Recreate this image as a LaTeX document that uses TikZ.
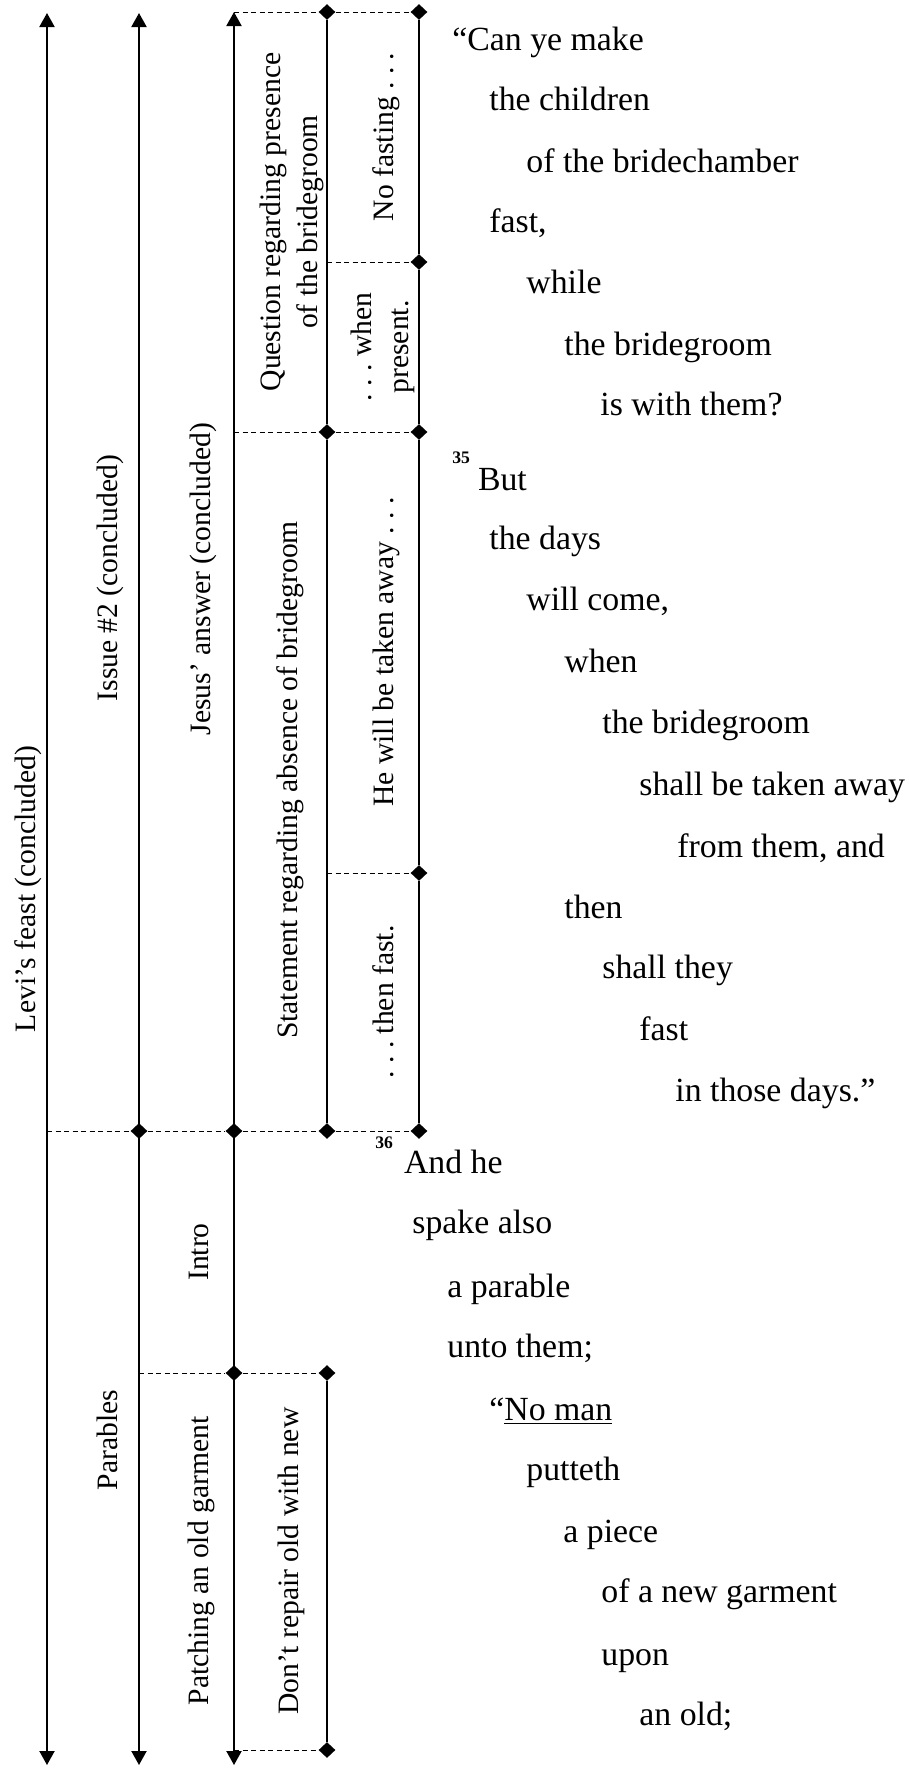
\documentclass[tikz,border=0pt]{standalone}
\usepackage{fontspec}
\setmainfont{Liberation Serif}
\usetikzlibrary{arrows.meta,shapes.geometric}
\begin{document}
\begin{tikzpicture}[x=0.5pt,y=-0.5pt,
  vline/.style={line width=1pt},
  arr/.style={vline,{Triangle[width=7.5pt,length=7pt]}-{Triangle[width=7.5pt,length=7pt]}},
  sepline/.style={line width=0.5pt,dash pattern=on 2.5pt off 1.75pt},
  dia/.style={diamond,fill=black,draw=none,inner sep=0pt,minimum width=8.5pt,minimum height=8pt},
  lbl/.style={rotate=90,inner sep=0pt,font=\fontsize{14.8}{18.3}\selectfont},
  vt/.style={anchor=base west,inner sep=0pt,font=\fontsize{16.9}{21}\selectfont},
]
\useasboundingbox (0,0) rectangle (909,1769);

% end points of the long arrows
\coordinate (c1t) at (47,13);  \coordinate (c1b) at (47,1765);
\coordinate (c2t) at (139,13); \coordinate (c2b) at (139,1765);
\coordinate (c3t) at (234,12); \coordinate (c3b) at (234,1765);
% free ends of dashed separators
\coordinate (h262) at (327,262);
\coordinate (h432) at (234,432);
\coordinate (h873) at (327,873);
\coordinate (h1131) at (47,1131);
\coordinate (h1373) at (139,1373);
\coordinate (h1750) at (234,1750);

% long arrows
\draw[arr] (c1t) -- (c1b);
\draw[arr] (c2t) -- (c2b);
\draw[arr] (c3t) -- (c3b);

% diamonds
\node[dia] (d2a) at (139,1131) {};
\node[dia] (d3a) at (234,1131) {};
\node[dia] (d3b) at (234,1373) {};
\node[dia] (d4a) at (327,12) {};
\node[dia] (d4b) at (327,432) {};
\node[dia] (d4c) at (327,1131) {};
\node[dia] (d4d) at (327,1373) {};
\node[dia] (d4e) at (327,1750) {};
\node[dia] (d5a) at (419,12) {};
\node[dia] (d5b) at (419,262) {};
\node[dia] (d5c) at (419,432) {};
\node[dia] (d5d) at (419,873) {};
\node[dia] (d5e) at (419,1131) {};

% vertical segments
\draw[vline] (d4a) -- (d4b) -- (d4c);
\draw[vline] (d4d) -- (d4e);
\draw[vline] (d5a) -- (d5b) -- (d5c) -- (d5d) -- (d5e);

% dashed separators
\draw[sepline] (c3t) -- (d4a) -- (d5a);
\draw[sepline] (h262) -- (d5b);
\draw[sepline] (h432) -- (d4b) -- (d5c);
\draw[sepline] (h873) -- (d5d);
\draw[sepline] (h1131) -- (d2a) -- (d3a) -- (d4c) -- (d5e);
\draw[sepline] (h1373) -- (d3b) -- (d4d);
\draw[sepline] (h1750) -- (d4e);

% rotated labels
\node[lbl,anchor=base] (l1) at (35,889) {Levi’s feast (concluded)};
\node[lbl,anchor=base] (l2) at (117,578) {Issue \#2 (concluded)};
\node[lbl,anchor=base] (l3) at (210,579) {Jesus’ answer (concluded)};
\node[lbl,anchor=center,align=center] (l4) at (292,222) {Question regarding presence\\of the bridegroom};
\node[lbl,anchor=base] (l5) at (393,137) {No fasting .\ .\ .};
\node[lbl,anchor=center,align=center] (l6) at (383,347) {.\ .\ .\ when\\present.};
\node[lbl,anchor=base] (l7) at (297,780) {Statement regarding absence of bridegroom};
\node[lbl,anchor=base] (l8) at (393,652) {He will be taken away .\ .\ .};
\node[lbl,anchor=base] (l9) at (393,1002) {.\ .\ .\ then fast.};
\node[lbl,anchor=base] (l10) at (208,1252) {Intro};
\node[lbl,anchor=base] (l11) at (117,1440) {Parables};
\node[lbl,anchor=base] (l12) at (208,1561) {Patching an old garment};
\node[lbl,anchor=base] (l13) at (298,1561) {Don’t repair old with new};

% verse text
\node[vt] (t1) at (452,50) {“Can ye make};
\node[vt] (t2) at (489,110) {the children};
\node[vt] (t3) at (526,172) {of the bridechamber};
\node[vt] (t4) at (489,232) {fast,};
\node[vt] (t5) at (526,293) {while};
\node[vt] (t6) at (564,355) {the bridegroom};
\node[vt] (t7) at (600,415) {is with them?};
\node[vt] (t8) at (452,490) {\raisebox{13.5pt}{\fontsize{8.8}{10}\selectfont\bfseries 35}\hspace{4pt}But};
\node[vt] (t9) at (489,549) {the days};
\node[vt] (t10) at (526,610) {will come,};
\node[vt] (t11) at (564,672) {when};
\node[vt] (t12) at (602,733) {the bridegroom};
\node[vt] (t13) at (639,795) {shall be taken away};
\node[vt] (t14) at (677,857) {from them, and};
\node[vt] (t15) at (564,918) {then};
\node[vt] (t16) at (602,978) {shall they};
\node[vt] (t17) at (639,1040) {fast};
\node[vt] (t18) at (675,1101) {in those days.”};
\node[vt] (t19) at (375,1173) {\raisebox{12.5pt}{\fontsize{8.8}{10}\selectfont\bfseries 36}\hspace{5.5pt}And he};
\node[vt] (t20) at (412,1233) {spake also};
\node[vt] (t21) at (447,1297) {a parable};
\node[vt] (t22) at (447,1357) {unto them;};
\node[vt] (t23) at (489,1420) {“\underline{No man}};
\node[vt] (t24) at (526,1480) {putteth};
\node[vt] (t25) at (563,1542) {a piece};
\node[vt] (t26) at (601,1602) {of a new garment};
\node[vt] (t27) at (601,1665) {upon};
\node[vt] (t28) at (639,1725) {an old;};
\end{tikzpicture}
\end{document}
